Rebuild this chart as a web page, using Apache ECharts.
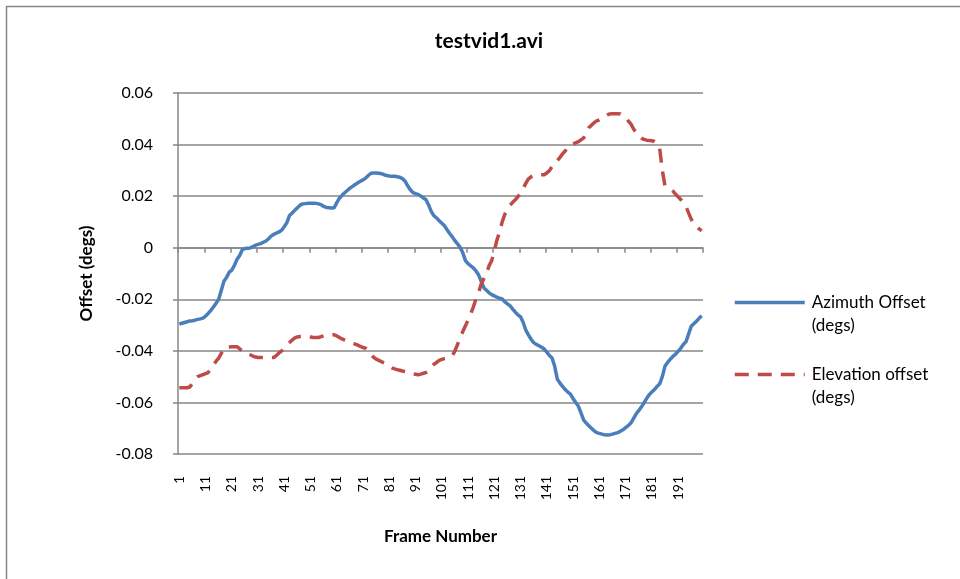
<!DOCTYPE html>
<html>
<head>
<meta charset="utf-8">
<script src="https://cdn.jsdelivr.net/npm/echarts@6/dist/echarts.min.js"></script>
<style>
html,body{margin:0;padding:0;background:#fff;}
#c{width:960px;height:579px;}
</style>
</head>
<body>
<div id="c"></div>
<script>
const titleText = 'testvid1.avi';
const seriesNames = ['Azimuth Offset\n(degs)', 'Elevation offset\n(degs)'];
const frames = [];
for (let i = 1; i <= 200; i++) frames.push(String(i));

const azimuth = [
  -0.0296, -0.0293, -0.0290, -0.0287, -0.0284, -0.0283, -0.0281, -0.0278, -0.0276, -0.0273,
  -0.0265, -0.0255, -0.0243, -0.0230, -0.0215, -0.0200, -0.0165, -0.0130, -0.0115, -0.0095,
  -0.0087, -0.0068, -0.0045, -0.0030, -0.0008, -0.0003, -0.0002, -0.0001, 0.0004, 0.0010,
  0.0013, 0.0016, 0.0021, 0.0026, 0.0035, 0.0045, 0.0052, 0.0057, 0.0061, 0.0068,
  0.0082, 0.0098, 0.0125, 0.0135, 0.0145, 0.0155, 0.0165, 0.0170, 0.0171, 0.0172,
  0.0172, 0.0172, 0.0172, 0.0170, 0.0167, 0.0160, 0.0156, 0.0155, 0.0154, 0.0155,
  0.0175, 0.0192, 0.0203, 0.0213, 0.0222, 0.0231, 0.0238, 0.0245, 0.0252, 0.0258,
  0.0263, 0.0270, 0.0280, 0.0289, 0.0290, 0.0290, 0.0289, 0.0287, 0.0283, 0.0280,
  0.0278, 0.0277, 0.0277, 0.0275, 0.0273, 0.0268, 0.0258, 0.0240, 0.0225, 0.0214,
  0.0210, 0.0207, 0.0200, 0.0193, 0.0186, 0.0165, 0.0140, 0.0124, 0.0115, 0.0105,
  0.0095, 0.0085, 0.0070, 0.0055, 0.0042, 0.0027, 0.0015, 0.0001, -0.0020, -0.0050,
  -0.0062, -0.0070, -0.0078, -0.0090, -0.0105, -0.0130, -0.0155, -0.0165, -0.0175, -0.0182,
  -0.0187, -0.0192, -0.0196, -0.0199, -0.0210, -0.0218, -0.0225, -0.0238, -0.0250, -0.0260,
  -0.0268, -0.0290, -0.0320, -0.0338, -0.0355, -0.0368, -0.0375, -0.0380, -0.0386, -0.0393,
  -0.0405, -0.0418, -0.0428, -0.0460, -0.0510, -0.0525, -0.0538, -0.0550, -0.0560, -0.0568,
  -0.0585, -0.0600, -0.0614, -0.0640, -0.0668, -0.0680, -0.0690, -0.0700, -0.0710, -0.0717,
  -0.0720, -0.0723, -0.0725, -0.0726, -0.0725, -0.0723, -0.0720, -0.0717, -0.0712, -0.0706,
  -0.0698, -0.0690, -0.0680, -0.0663, -0.0645, -0.0632, -0.0618, -0.0602, -0.0585, -0.0570,
  -0.0560, -0.0550, -0.0538, -0.0528, -0.0500, -0.0460, -0.0445, -0.0433, -0.0422, -0.0413,
  -0.0402, -0.0390, -0.0375, -0.0365, -0.0335, -0.0305, -0.0295, -0.0285, -0.0274, -0.0264
];

const elevation = [
  -0.0543, -0.0543, -0.0543, -0.0543, -0.0540, -0.0525, -0.0510, -0.0500, -0.0496, -0.0492,
  -0.0488, -0.0484, -0.0470, -0.0455, -0.0440, -0.0428, -0.0410, -0.0390, -0.0386, -0.0385,
  -0.0384, -0.0384, -0.0384, -0.0392, -0.0400, -0.0406, -0.0410, -0.0415, -0.0420, -0.0424,
  -0.0426, -0.0426, -0.0426, -0.0425, -0.0425, -0.0426, -0.0426, -0.0418, -0.0408, -0.0400,
  -0.0390, -0.0378, -0.0368, -0.0358, -0.0350, -0.0346, -0.0344, -0.0343, -0.0343, -0.0344,
  -0.0346, -0.0348, -0.0348, -0.0348, -0.0345, -0.0342, -0.0340, -0.0338, -0.0338, -0.0338,
  -0.0342, -0.0348, -0.0354, -0.0358, -0.0362, -0.0366, -0.0370, -0.0374, -0.0378, -0.0383,
  -0.0387, -0.0390, -0.0400, -0.0412, -0.0425, -0.0432, -0.0437, -0.0442, -0.0447, -0.0452,
  -0.0460, -0.0466, -0.0470, -0.0473, -0.0475, -0.0478, -0.0480, -0.0483, -0.0485, -0.0488,
  -0.0491, -0.0493, -0.0490, -0.0487, -0.0484, -0.0478, -0.0462, -0.0452, -0.0445, -0.0437,
  -0.0433, -0.0430, -0.0428, -0.0425, -0.0419, -0.0400, -0.0375, -0.0348, -0.0325, -0.0303,
  -0.0280, -0.0257, -0.0230, -0.0199, -0.0175, -0.0141, -0.0120, -0.0100, -0.0070, -0.0050,
  -0.0012, 0.0030, 0.0060, 0.0100, 0.0130, 0.0150, 0.0165, 0.0176, 0.0186, 0.0198,
  0.0210, 0.0230, 0.0250, 0.0267, 0.0275, 0.0280, 0.0283, 0.0283, 0.0283, 0.0283,
  0.0290, 0.0299, 0.0315, 0.0330, 0.0338, 0.0350, 0.0364, 0.0375, 0.0390, 0.0398,
  0.0403, 0.0407, 0.0411, 0.0418, 0.0425, 0.0445, 0.0465, 0.0475, 0.0485, 0.0492,
  0.0496, 0.0503, 0.0510, 0.0515, 0.0519, 0.0520, 0.0520, 0.0520, 0.0519, 0.0513,
  0.0505, 0.0492, 0.0480, 0.0462, 0.0445, 0.0435, 0.0425, 0.0420, 0.0417, 0.0416,
  0.0415, 0.0412, 0.0405, 0.0385, 0.0300, 0.0241, 0.0235, 0.0228, 0.0220, 0.0208,
  0.0198, 0.0187, 0.0175, 0.0160, 0.0135, 0.0111, 0.0095, 0.0082, 0.0073, 0.0066
];

const FONT = 'Lato, "Noto Sans", sans-serif';
const GRAY = '#878787';

const chart = echarts.init(document.getElementById('c'), null, {renderer: 'canvas'});
chart.setOption({
  backgroundColor: '#fff',
  animation: false,
  textStyle: {fontFamily: FONT, color: '#000'},
  graphic: [{
    type: 'rect', left: 4, top: 4, silent: true,
    shape: {width: 1100, height: 1100},
    style: {fill: 'none', stroke: GRAY, lineWidth: 1.5}
  }],
  title: {
    text: titleText, left: 484, top: 26, textAlign: 'center',
    textStyle: {fontFamily: FONT, fontWeight: 'bold', fontSize: 21, color: '#000'}
  },
  legend: {
    orient: 'vertical', left: 733, top: 268, padding: 0, itemGap: 3,
    itemWidth: 70, itemHeight: 14,
    itemStyle: {opacity: 0},
    lineStyle: {width: 3.5},
    formatter: name => '\n' + name,
    textStyle: {fontFamily: FONT, fontSize: 17, color: '#000', lineHeight: 23, padding: [0, 0, 0, 2]},
    data: seriesNames
  },
  grid: {left: 178, right: 257, top: 93, bottom: 125, containLabel: false},
  xAxis: [{
    type: 'category', data: frames, boundaryGap: true,
    axisLine: {show: true, onZero: true, lineStyle: {color: GRAY, width: 1.5}},
    axisTick: {show: true, interval: 9, length: 5, lineStyle: {color: GRAY, width: 1.5}},
    axisLabel: {show: false},
    splitLine: {show: false}
  }, {
    type: 'category', data: frames, boundaryGap: true, position: 'bottom',
    axisLine: {show: false, onZero: false},
    axisTick: {show: false},
    axisLabel: {show: true, interval: 9, rotate: 90, margin: 22, fontSize: 14, fontFamily: FONT, color: '#000'},
    name: 'Frame Number', nameLocation: 'middle', nameGap: 74,
    nameTextStyle: {fontFamily: FONT, fontWeight: 'bold', fontSize: 17, color: '#000'}
  }],
  yAxis: {
    type: 'value', min: -0.08, max: 0.06, interval: 0.02,
    name: 'Offset (degs)', nameLocation: 'middle', nameGap: 83,
    nameTextStyle: {fontFamily: FONT, fontWeight: 'bold', fontSize: 17, color: '#000'},
    axisLine: {show: true, lineStyle: {color: GRAY, width: 1.5}},
    axisTick: {show: true, length: 5, lineStyle: {color: GRAY, width: 1.5}},
    axisLabel: {margin: 25, fontSize: 16, fontFamily: FONT, color: '#000',
      formatter: v => (Math.abs(v) < 1e-9 ? '0' : v.toFixed(2))},
    splitLine: {show: true, lineStyle: {color: GRAY, width: 1.5}}
  },
  series: [{
    name: seriesNames[0], type: 'line', data: azimuth, xAxisIndex: 0,
    symbol: 'none', smooth: false,
    lineStyle: {color: '#4A7EBB', width: 3.5},
    itemStyle: {color: '#4A7EBB'}
  }, {
    name: seriesNames[1], type: 'line', data: elevation, xAxisIndex: 0,
    symbol: 'none', smooth: false,
    lineStyle: {color: '#BE4B48', width: 3.5, type: [14, 9]},
    itemStyle: {color: '#BE4B48'}
  }]
});
</script>
</body>
</html>
